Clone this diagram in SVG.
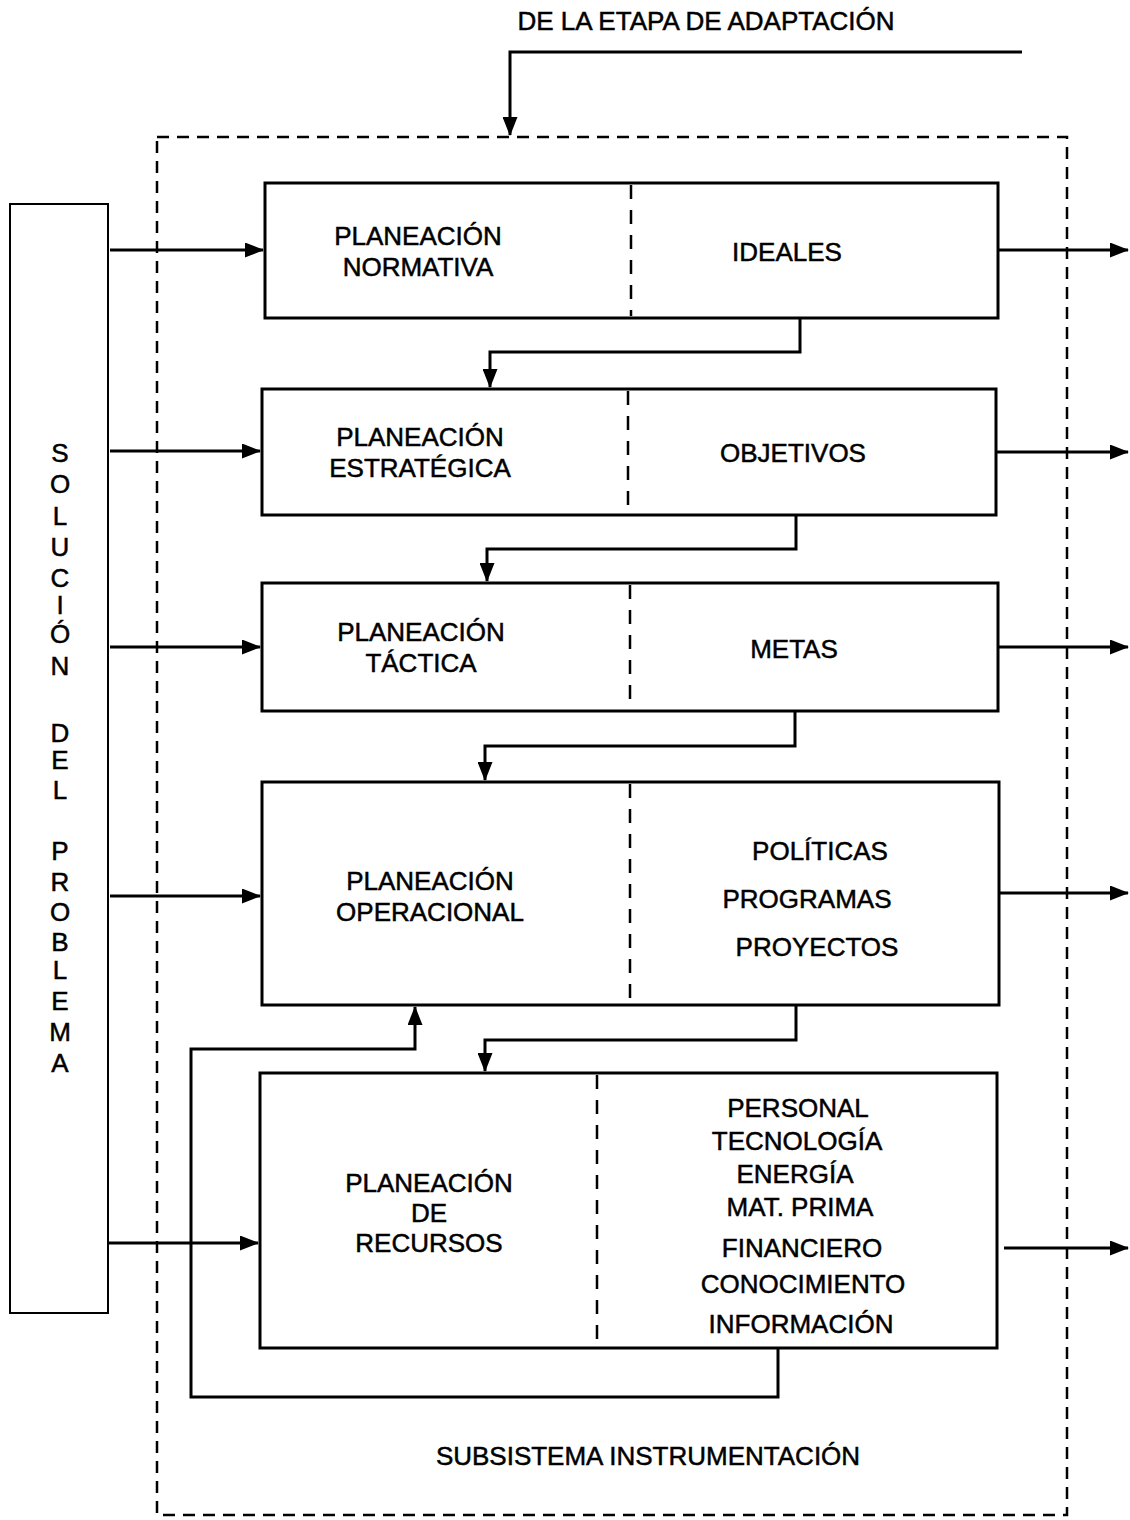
<svg xmlns="http://www.w3.org/2000/svg" width="1130" height="1520" viewBox="0 0 1130 1520">
  <style>
    text { font-family: "Liberation Sans", Arial, sans-serif; font-size: 26px; fill: #000; stroke: #000; stroke-width: 0.5; text-anchor: middle; }
    .box { fill: #fff; stroke: #000; stroke-width: 3; }
    .side { fill: #fff; stroke: #000; stroke-width: 2; }
    .split { stroke: #000; stroke-width: 2.5; stroke-dasharray: 14 11; fill: none; }
    .frame { fill: none; stroke: #000; stroke-width: 2.5; stroke-dasharray: 12 8; }
    .wire { fill: none; stroke: #000; stroke-width: 3; }
    .arrow { marker-end: url(#head); }
  </style>
  <defs>
    <marker id="head" markerUnits="userSpaceOnUse" markerWidth="19" markerHeight="15" refX="18" refY="7.5" orient="auto">
      <path d="M0,0 L19,7.5 L0,15 z" fill="#000"/>
    </marker>
  </defs>

  <!-- subsystem boundary -->
  <g id="subsistema">
    <rect class="frame" x="157" y="137" width="910" height="1378"/>
    <text x="648" y="1465">SUBSISTEMA INSTRUMENTACIÓN</text>
  </g>

  <!-- incoming label -->
  <g id="entrada">
    <text x="706" y="30">DE LA ETAPA DE ADAPTACIÓN</text>
  </g>

  <!-- problem solution column -->
  <g id="solucion">
    <rect class="side" x="10" y="204" width="98" height="1109"/>
    <text x="60" y="462">S</text>
    <text x="60" y="493">O</text>
    <text x="60" y="525">L</text>
    <text x="60" y="556">U</text>
    <text x="60" y="587">C</text>
    <text x="60" y="614">I</text>
    <text x="60" y="643">Ó</text>
    <text x="60" y="675">N</text>
    <text x="60" y="742">D</text>
    <text x="60" y="769">E</text>
    <text x="60" y="799">L</text>
    <text x="60" y="860">P</text>
    <text x="60" y="891">R</text>
    <text x="60" y="921">O</text>
    <text x="60" y="951">B</text>
    <text x="60" y="979">L</text>
    <text x="60" y="1010">E</text>
    <text x="60" y="1041">M</text>
    <text x="60" y="1072">A</text>
  </g>

  <g id="normativa">
    <rect class="box" x="265" y="183" width="733" height="135"/>
    <line class="split" x1="631" y1="185" x2="631" y2="316"/>
    <text x="418" y="245">PLANEACIÓN</text>
    <text x="418" y="276">NORMATIVA</text>
    <text x="787" y="261">IDEALES</text>
  </g>

  <g id="estrategica">
    <rect class="box" x="262" y="389" width="734" height="126"/>
    <line class="split" x1="628" y1="391" x2="628" y2="513"/>
    <text x="420" y="446">PLANEACIÓN</text>
    <text x="420" y="477">ESTRATÉGICA</text>
    <text x="793" y="462">OBJETIVOS</text>
  </g>

  <g id="tactica">
    <rect class="box" x="262" y="583" width="736" height="128"/>
    <line class="split" x1="630" y1="585" x2="630" y2="709"/>
    <text x="421" y="641">PLANEACIÓN</text>
    <text x="421" y="672">TÁCTICA</text>
    <text x="794" y="658">METAS</text>
  </g>

  <g id="operacional">
    <rect class="box" x="262" y="782" width="737" height="223"/>
    <line class="split" x1="630" y1="784" x2="630" y2="1003"/>
    <text x="430" y="890">PLANEACIÓN</text>
    <text x="430" y="921">OPERACIONAL</text>
    <text x="820" y="860">POLÍTICAS</text>
    <text x="807" y="908">PROGRAMAS</text>
    <text x="817" y="956">PROYECTOS</text>
  </g>

  <g id="recursos">
    <rect class="box" x="260" y="1073" width="737" height="275"/>
    <line class="split" x1="597" y1="1075" x2="597" y2="1346"/>
    <text x="429" y="1192">PLANEACIÓN</text>
    <text x="429" y="1222">DE</text>
    <text x="429" y="1252">RECURSOS</text>
    <text x="798" y="1117">PERSONAL</text>
    <text x="797" y="1150">TECNOLOGÍA</text>
    <text x="795" y="1183">ENERGÍA</text>
    <text x="800" y="1216">MAT. PRIMA</text>
    <text x="802" y="1257">FINANCIERO</text>
    <text x="803" y="1293">CONOCIMIENTO</text>
    <text x="801" y="1333">INFORMACIÓN</text>
  </g>

  <!-- connectors -->
  <g id="conectores">
    <polyline class="wire arrow" points="1022,52 510,52 510,135"/>

    <line class="wire arrow" x1="110" y1="250" x2="263" y2="250"/>
    <line class="wire arrow" x1="110" y1="451" x2="260" y2="451"/>
    <line class="wire arrow" x1="110" y1="647" x2="260" y2="647"/>
    <line class="wire arrow" x1="110" y1="896" x2="260" y2="896"/>
    <line class="wire arrow" x1="108" y1="1243" x2="258" y2="1243"/>

    <line class="wire arrow" x1="998" y1="250" x2="1128" y2="250"/>
    <line class="wire arrow" x1="996" y1="452" x2="1128" y2="452"/>
    <line class="wire arrow" x1="998" y1="647" x2="1128" y2="647"/>
    <line class="wire arrow" x1="999" y1="893" x2="1128" y2="893"/>
    <line class="wire arrow" x1="1004" y1="1248" x2="1128" y2="1248"/>

    <polyline class="wire arrow" points="800,318 800,352 490,352 490,387"/>
    <polyline class="wire arrow" points="796,515 796,549 487,549 487,581"/>
    <polyline class="wire arrow" points="795,711 795,746 485,746 485,780"/>
    <polyline class="wire arrow" points="796,1005 796,1040 485,1040 485,1071"/>

    <polyline class="wire arrow" points="778,1348 778,1397 191,1397 191,1049 415,1049 415,1007"/>
  </g>
</svg>
